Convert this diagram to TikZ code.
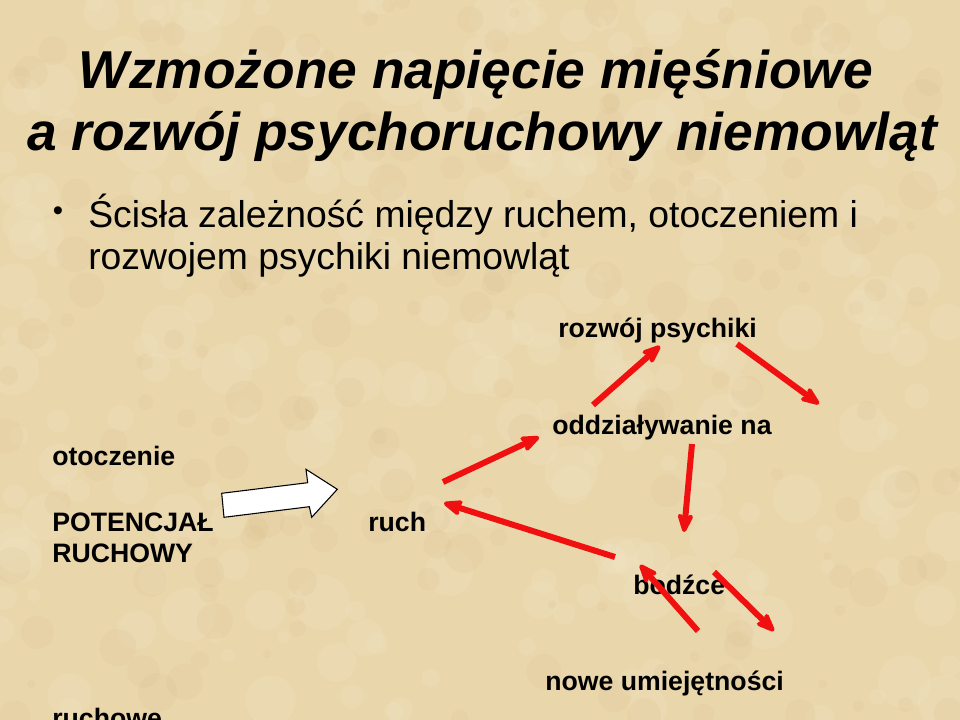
\documentclass[tikz,border=0pt]{standalone}
\usepackage{fontspec}
\setmainfont{Liberation Sans}
\usetikzlibrary{arrows.meta}
\definecolor{parch}{HTML}{E9D6AB}
\definecolor{parchlight}{HTML}{F4E8C8}
\definecolor{parchdark}{HTML}{D4B883}
\definecolor{arrowred}{HTML}{F01010}
\tikzset{
  titletext/.style={inner sep=0pt, font=\fontsize{40}{48}\selectfont\bfseries\itshape},
  bullettext/.style={inner sep=0pt, font=\fontsize{28}{32}\selectfont},
  bulletdot/.style={inner sep=0pt, font=\fontsize{22}{26}\selectfont},
  lbl/.style={inner sep=0pt, font=\fontsize{20}{24}\selectfont\bfseries},
  redarrow/.style={draw=arrowred, line width=4.5pt,
    -{Stealth[length=20pt, width=16pt, inset=7pt, round]}},
  blockarrow/.style={fill=white, draw=black, line width=0.8pt, line join=miter}
}
\begin{document}
\begin{tikzpicture}[x=0.75pt,y=-0.75pt]
\useasboundingbox (0,0) rectangle (960,720);
\clip (0,0) rectangle (960,720);
\fill[parch] (0,0) rectangle (960,720);
% parchment texture (subtle mottling)
\pgfmathsetseed{11}
\foreach \i in {1,...,260}{
  \pgfmathsetmacro\xx{rnd*960}
  \pgfmathsetmacro\yy{rnd*720}
  \pgfmathsetmacro\rr{6+rnd*22}
  \fill[parchlight, opacity=0.22] (\xx,\yy) circle[radius=\rr];
}
\foreach \i in {1,...,200}{
  \pgfmathsetmacro\xx{rnd*960}
  \pgfmathsetmacro\yy{rnd*720}
  \pgfmathsetmacro\rr{4+rnd*16}
  \fill[parchdark, opacity=0.12] (\xx,\yy) circle[radius=\rr];
}

% title
\node[titletext, anchor=base] (t1) at (476,89) {Wzmożone napięcie mięśniowe};
\node[titletext, anchor=base] (t2) at (482,151) {a rozwój psychoruchowy niemowląt};

% bullet
\node[bulletdot, anchor=center] (dot) at (58,214) {•};
\node[bullettext, anchor=base west] (b1) at (88,228) {Ścisła zależność między ruchem, otoczeniem i};
\node[bullettext, anchor=base west] (b2) at (88,270) {rozwojem psychiki niemowląt};

% labels
\node[lbl, anchor=base west] (rp) at (558,337) {rozwój psychiki};
\node[lbl, anchor=base west] (on) at (552,434) {oddziaływanie na};
\node[lbl, anchor=base west] (ot) at (52,465) {otoczenie};
\node[lbl, anchor=base west] (pot) at (52,531) {POTENCJAŁ};
\node[lbl, anchor=base west] (ruchowy) at (52,562) {RUCHOWY};
\node[lbl, anchor=base west] (ruch) at (368,531) {ruch};
\node[lbl, anchor=base west] (bo) at (633,594) {bodźce};
\node[lbl, anchor=base west] (nu) at (545,690) {nowe umiejętności};
\node[lbl, anchor=base west] (ruchowe) at (52,727) {ruchowe};

% white block arrow
\draw[blockarrow] (221.7,493.3) -- (307.7,482.7) -- (306,469.3) -- (337.3,489.3)
  -- (311.7,517.3) -- (309.3,506.7) -- (224,517.3) -- cycle;

% arrow end points
\coordinate (a1s) at (593,405);  \coordinate (a1e) at (660,346);
\coordinate (a2s) at (737,344);  \coordinate (a2e) at (819,404);
\coordinate (a3s) at (443,482);  \coordinate (a3e) at (539,437);
\coordinate (a4s) at (692,444);  \coordinate (a4e) at (684,532);
\coordinate (a5s) at (615,557);  \coordinate (a5e) at (444,503);
\coordinate (a6s) at (698,631);  \coordinate (a6e) at (640,565);
\coordinate (a7s) at (714,572);  \coordinate (a7e) at (774,631);

\draw[redarrow] (a1s) -- (a1e);
\draw[redarrow] (a2s) -- (a2e);
\draw[redarrow] (a3s) -- (a3e);
\draw[redarrow] (a4s) -- (a4e);
\draw[redarrow] (a5s) -- (a5e);
\draw[redarrow] (a6s) -- (a6e);
\draw[redarrow] (a7s) -- (a7e);
\end{tikzpicture}
\end{document}
